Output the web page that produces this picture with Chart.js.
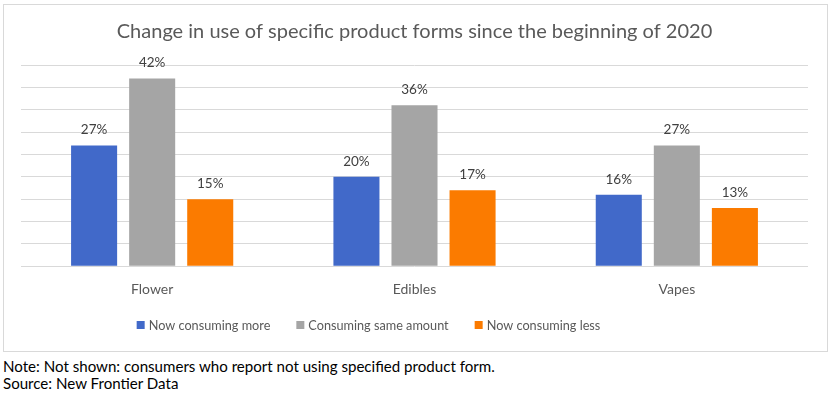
<!DOCTYPE html>
<html>
<head>
<meta charset="utf-8">
<script src="https://cdn.jsdelivr.net/npm/chart.js@4/dist/chart.umd.min.js"></script>
<style>
  html, body { margin: 0; padding: 0; background: #fff; }
  body { width: 832px; height: 396px; position: relative; overflow: hidden; font-family: Lato, "Open Sans", sans-serif; }
  #frame { position: absolute; left: 3px; top: 4px; width: 823px; height: 346px; border: 1px solid #d9d9d9; }
  #wrap { position: absolute; left: 0; top: 0; width: 823px; height: 346px; }
  .note { position: absolute; left: 3px; font-size: 15.1px; color: #000; white-space: nowrap; }
</style>
</head>
<body>
<div id="frame"><div id="wrap"><canvas id="c"></canvas></div></div>
<div class="note" style="top:357px">Note: Not shown: consumers who report not using specified product form.</div>
<div class="note" style="top:374px">Source: New Frontier Data</div>
<script>
const categories = ["Flower", "Edibles", "Vapes"];
const seriesNames = ["Now consuming more", "Consuming same amount", "Now consuming less"];
const moreValues = [27, 20, 16];
const sameValues = [42, 36, 27];
const lessValues = [15, 17, 13];
const colors = ["#4169c9", "#a5a5a5", "#fb7b00"];

const FONT = 'Lato, "Open Sans", sans-serif';

const labelPlugin = {
  id: 'valueLabels',
  afterDatasetsDraw(chart) {
    const ctx = chart.ctx;
    ctx.save();
    ctx.font = '13.5px ' + FONT;
    ctx.fillStyle = '#404040';
    ctx.textAlign = 'center';
    ctx.textBaseline = 'middle';
    chart.data.datasets.forEach((ds, i) => {
      chart.getDatasetMeta(i).data.forEach((bar, j) => {
        ctx.fillText(ds.data[j] + '%', bar.x, bar.y - 15.5);
      });
    });
    ctx.restore();
  }
};

// legend drawn from the datasets, placed below the category axis
const legendPlugin = {
  id: 'bottomLegend',
  afterDraw(chart) {
    const ctx = chart.ctx;
    const ds = chart.data.datasets;
    ctx.save();
    ctx.font = '12.7px ' + FONT;
    ctx.textBaseline = 'middle';
    ctx.textAlign = 'left';
    const box = 8, gap = 4, itemGap = 26;
    const widths = ds.map(d => box + gap + ctx.measureText(d.label).width);
    const total = widths.reduce((a, b) => a + b, 0) + itemGap * (ds.length - 1);
    const centerX = (chart.chartArea.left + chart.chartArea.right) / 2 - 46;
    const y = chart.scales.x.bottom + 20;
    let x = centerX - total / 2;
    ds.forEach((d, i) => {
      ctx.fillStyle = d.backgroundColor;
      ctx.fillRect(x, y - box / 2, box, box);
      ctx.fillStyle = '#595959';
      ctx.fillText(d.label, x + box + gap, y + 0.5);
      x += widths[i] + itemGap;
    });
    ctx.restore();
  }
};

new Chart(document.getElementById('c'), {
  type: 'bar',
  data: {
    labels: categories,
    datasets: [
      { label: seriesNames[0], data: moreValues, backgroundColor: colors[0] },
      { label: seriesNames[1], data: sameValues, backgroundColor: colors[1] },
      { label: seriesNames[2], data: lessValues, backgroundColor: colors[2] }
    ]
  },
  options: {
    responsive: true,
    maintainAspectRatio: false,
    animation: false,
    datasets: { bar: { categoryPercentage: 0.664, barPercentage: 0.793 } },
    layout: { padding: { left: 17, right: 19, top: 0, bottom: 46 } },
    scales: {
      x: {
        grid: { display: false },
        border: { display: false },
        ticks: { color: '#595959', font: { family: 'Lato', size: 14 }, padding: 7 }
      },
      y: {
        min: 0, max: 45,
        ticks: { display: false, stepSize: 5 },
        border: { display: false },
        grid: { color: '#d9d9d9', lineWidth: 1, drawTicks: false }
      }
    },
    plugins: {
      title: {
        display: true,
        text: 'Change in use of specific product forms since the beginning of 2020',
        color: '#595959',
        font: { family: 'Lato', size: 20, weight: 'normal' },
        padding: { top: 15, bottom: 21 }
      },
      legend: { display: false },
      tooltip: { enabled: false }
    }
  },
  plugins: [labelPlugin, legendPlugin]
});
</script>
</body>
</html>
